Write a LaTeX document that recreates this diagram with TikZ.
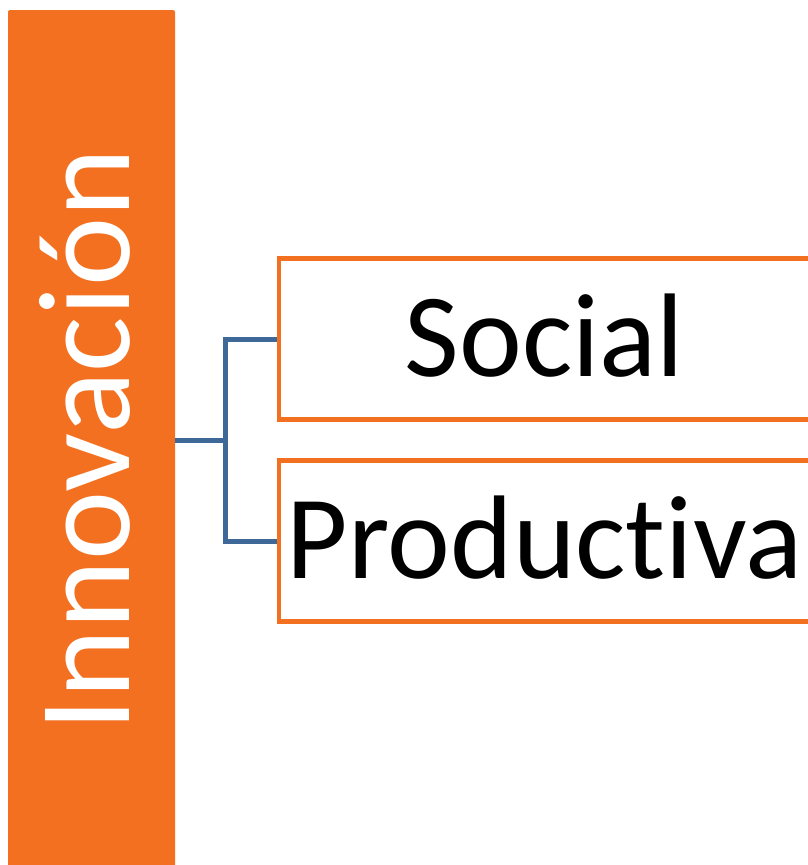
\documentclass[tikz,border=0pt]{standalone}
\usepackage{fontspec}
\setmainfont{Carlito}[Ligatures=NoCommon]
\definecolor{innorange}{RGB}{243,112,33}
\definecolor{innblue}{RGB}{62,104,152}

\begin{document}
\begin{tikzpicture}[x=1pt,y=-1pt,
        barbox/.style={fill=innorange, draw=none, rounded corners=2pt, rotate=90,
            minimum width=860pt, minimum height=167pt, inner sep=0pt,
            text=white, font=\fontsize{131}{136}\selectfont,
            text height=83pt, text depth=8pt},
        itembox/.style={draw=innorange, line width=4.5pt, fill=white,
            minimum width=531pt, minimum height=161pt, inner sep=0pt,
            text width=531pt, align=center,
            font=\fontsize{119}{124}\selectfont,
            text height=77pt, text depth=2pt},
        link/.style={draw=innblue, line width=5pt}]
        \useasboundingbox (0,0) rectangle (807,865);
        \node[barbox] (innov) at (91.5,440) {Innovación};
        \node[itembox] (social) at (544.5,339) {Social};
        \node[itembox] (prod) at (544.5,541) {Productiva};
        \draw[link] (innov.south) -- ++(50,0) coordinate (split);
        \draw[link] (split) |- (social.west);
        \draw[link] (split) |- (prod.west);
    \end{tikzpicture}
\end{document}
